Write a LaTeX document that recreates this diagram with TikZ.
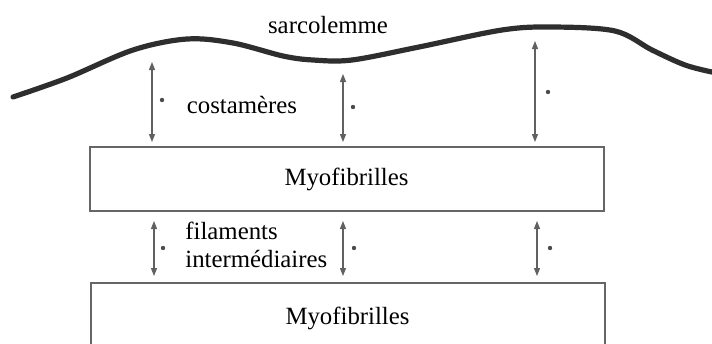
\documentclass[tikz,border=0pt]{standalone}
\usepackage{fontspec}
\setmainfont{Liberation Serif}
\usetikzlibrary{arrows.meta}

\tikzset{
  membrane/.style={line width=2.6pt, draw=black!82, line cap=round},
  linker/.style={draw=black!62, line width=0.6pt,
    {Triangle[length=4pt,width=3pt]}-{Triangle[length=4pt,width=3pt]}},
  fibre/.style={draw=black!60, line width=1pt, minimum width=257pt,
    minimum height=32pt, inner sep=0pt, font=\fontsize{12.4}{14}\selectfont},
  legende/.style={inner sep=0pt, font=\fontsize{12.4}{14}\selectfont},
  pastille/.style={fill=black!70}
}

\begin{document}
\begin{tikzpicture}[x=0.5pt, y=-0.5pt]
\useasboundingbox (0,0) rectangle (712,343);

% Sarcolemme
\draw[membrane] plot[smooth, tension=0.55] coordinates
  {(13,97) (67,78) (133,50) (187,39) (233,43) (283,56) (313,60) (352,60)
   (419,47) (502,30) (552,27) (615,31) (652,50) (685,65) (712,72)};
\node[legende, anchor=base] (sarco) at (328,33) {sarcolemme};

% Myofibrilles
\node[fibre] (myo1) at (346.5,179) {Myofibrilles};
\node[fibre, minimum height=35pt] (myo2) at (347.5,318) {Myofibrilles};

% Costameres
\foreach \x/\y [count=\i] in {152/62, 343/74, 535/41}
  \coordinate (c\i) at (\x,\y);
\foreach \i in {1,2,3}
  \draw[linker, shorten >=2pt] (c\i) -- (c\i |- myo1.north);
\node[legende, anchor=base] (costa) at (242,113) {costamères};

% Filaments intermediaires
\foreach \x [count=\i] in {154, 343, 537}
  \coordinate (f\i) at (\x,0);
\foreach \i in {1,2,3}
  \draw[linker, shorten <=4.5pt, shorten >=3pt]
    (myo1.south -| f\i) -- (myo2.north -| f\i);
\node[legende, anchor=north west, align=left] (filam) at (185,222)
  {filaments\\intermédiaires};

% Points
\foreach \x/\y in {162/100, 353/107, 548/92, 163/248, 354/248, 550/248}
  \fill[pastille] (\x,\y) circle (1.1pt);
\end{tikzpicture}
\end{document}
